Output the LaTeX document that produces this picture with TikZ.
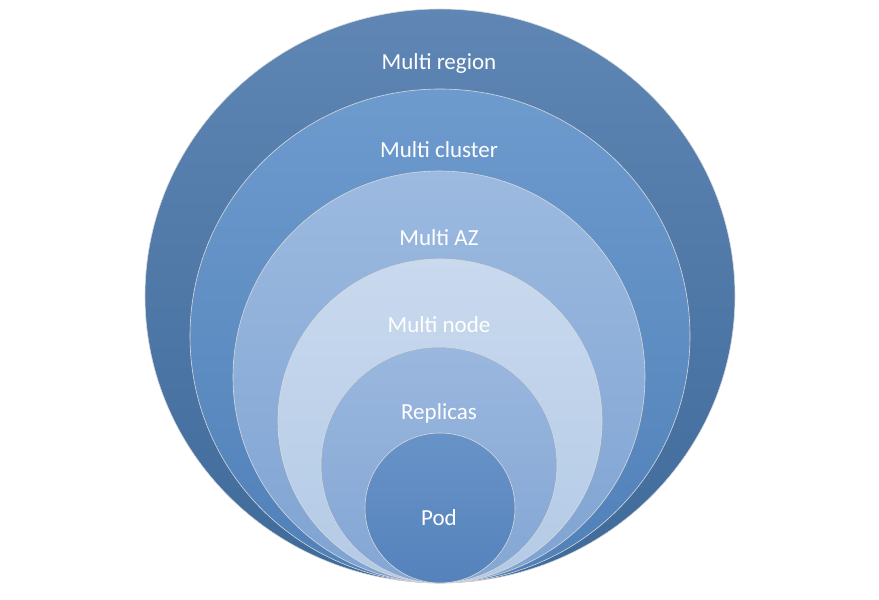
\documentclass[tikz,border=0pt]{standalone}
\usepackage{fontspec}
\setmainfont{Carlito}
\begin{document}
\begin{tikzpicture}[x=1pt,y=-1pt,
  ring/.style={draw=white!85!black, line width=0.6pt},
  lab/.style={text=white, font=\fontsize{23}{26}\selectfont}]
\useasboundingbox (0,0) rectangle (879,600);
\definecolor{c1t}{HTML}{5F86B4}\definecolor{c1b}{HTML}{3E6A9A}
\definecolor{c2t}{HTML}{6E9BCE}\definecolor{c2b}{HTML}{4F80B8}
\definecolor{c3t}{HTML}{9CBAE0}\definecolor{c3b}{HTML}{7FA3D2}
\definecolor{c4t}{HTML}{C9D9EE}\definecolor{c4b}{HTML}{B3CAE6}
\definecolor{c5t}{HTML}{9AB7DE}\definecolor{c5b}{HTML}{83A6D4}
\definecolor{c6t}{HTML}{6893C9}\definecolor{c6b}{HTML}{5582BB}
\path[ring, top color=c1t, bottom color=c1b] (440,296) ellipse [x radius=295, y radius=287] node (r1) {};
\path[ring, top color=c2t, bottom color=c2b] (440,336) ellipse [x radius=250, y radius=247] node (r2) {};
\path[ring, top color=c3t, bottom color=c3b] (439,377) ellipse [x radius=206, y radius=206] node (r3) {};
\path[ring, top color=c4t, bottom color=c4b] (440,421) ellipse [x radius=162, y radius=162] node (r4) {};
\path[ring, top color=c5t, bottom color=c5b] (439,465) ellipse [x radius=118, y radius=118] node (r5) {};
\path[ring, top color=c6t, bottom color=c6b] (440,508) ellipse [x radius=75, y radius=75] node (r6) {};
\node[lab] (t1) at (439,63) {Multi region};
\node[lab] (t2) at (439,150) {Multi cluster};
\node[lab] (t3) at (439,238) {Multi AZ};
\node[lab] (t4) at (439,325) {Multi node};
\node[lab] (t5) at (439,413) {Replicas};
\node[lab] (t6) at (439,518) {Pod};
\end{tikzpicture}
\end{document}
